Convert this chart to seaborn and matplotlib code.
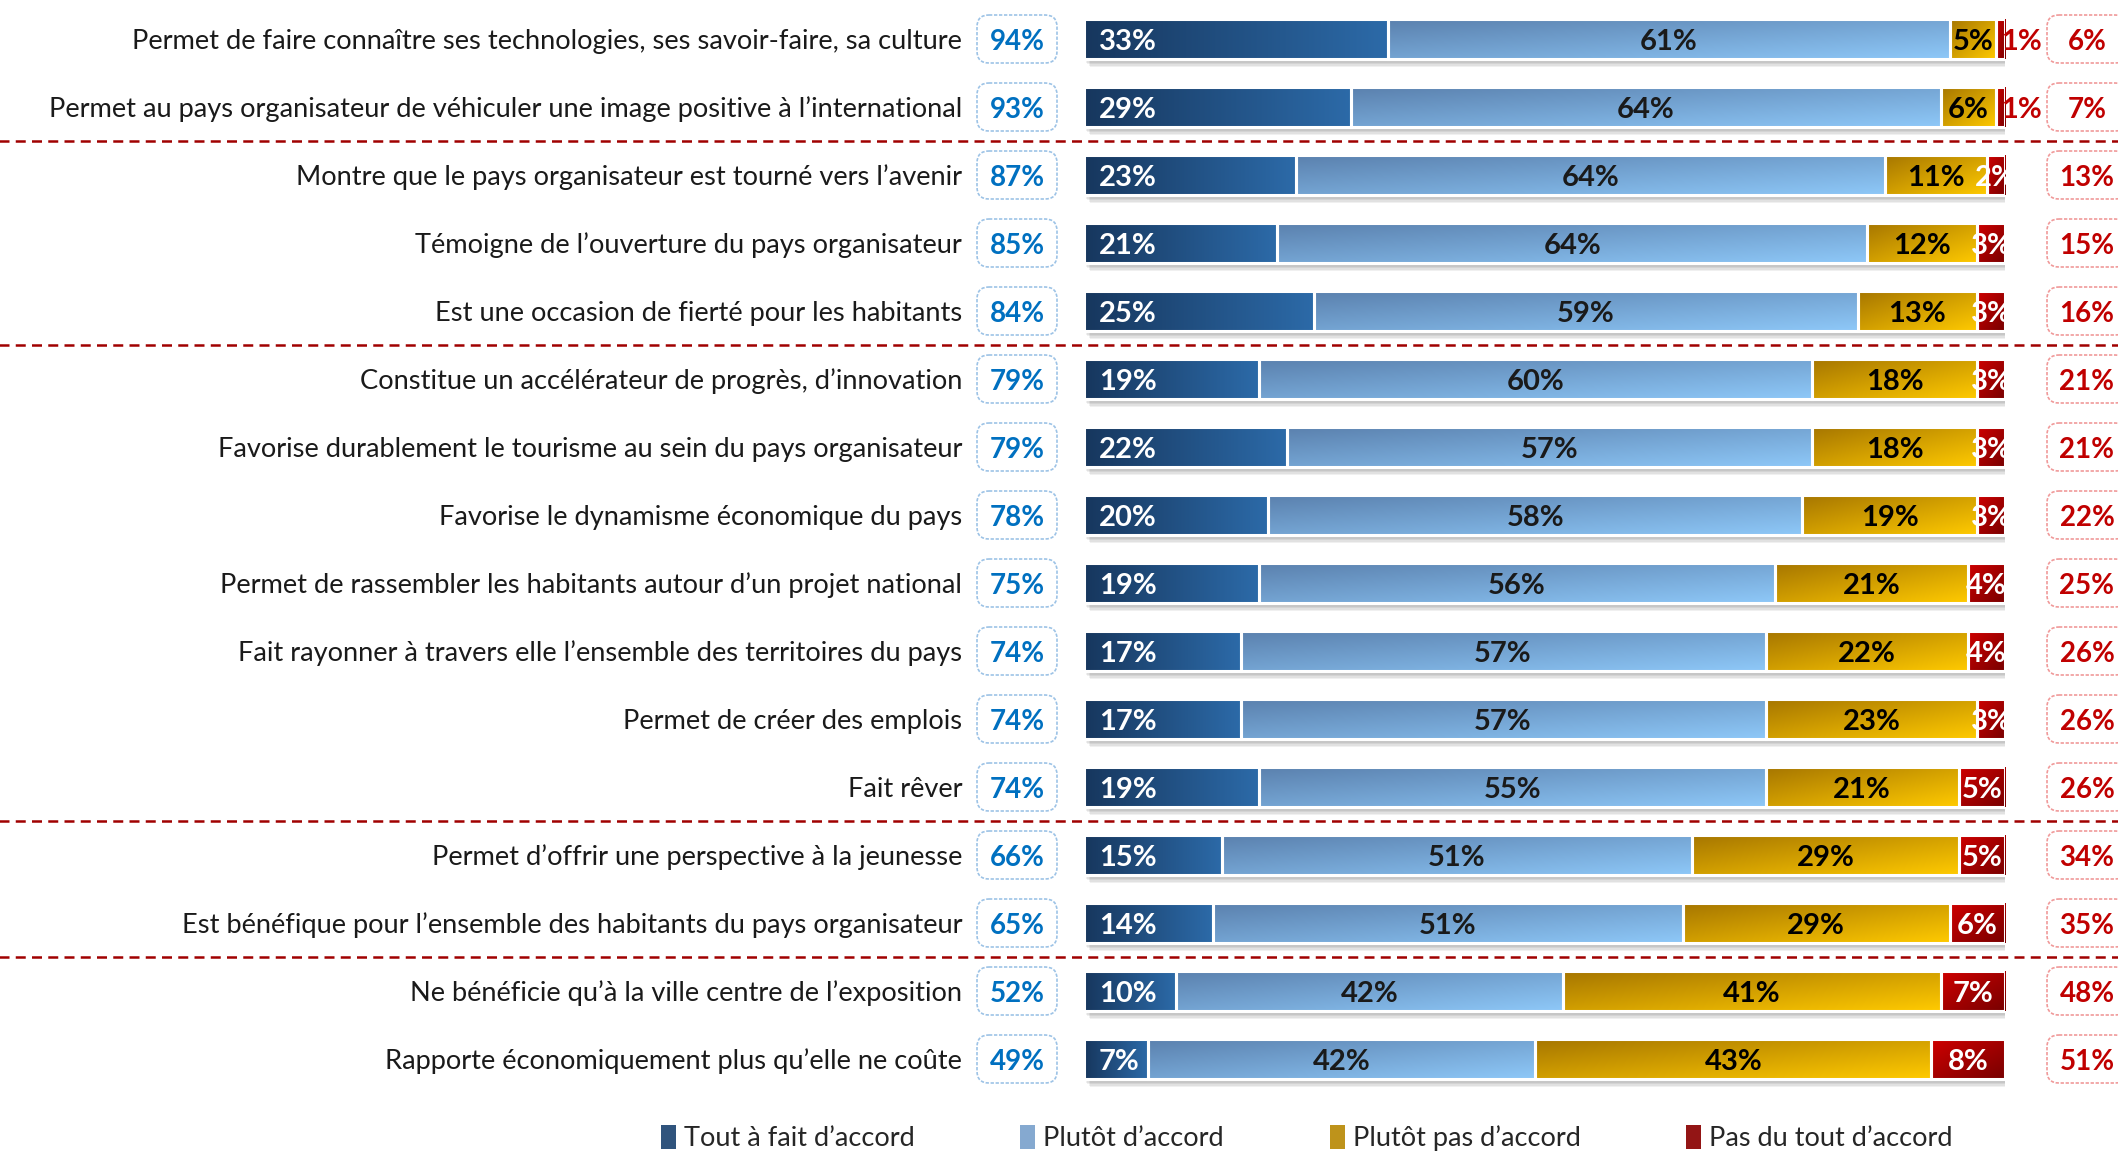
import numpy as np
import pandas as pd
import matplotlib
matplotlib.use("Agg")
import matplotlib.pyplot as plt
import seaborn as sns
from matplotlib.patches import FancyBboxPatch, Rectangle
from matplotlib.colors import to_rgb

labels = [
    "Permet de faire connaître ses technologies, ses savoir-faire, sa culture",
    "Permet au pays organisateur de véhiculer une image positive à l’international",
    "Montre que le pays organisateur est tourné vers l’avenir",
    "Témoigne de l’ouverture du pays organisateur",
    "Est une occasion de fierté pour les habitants",
    "Constitue un accélérateur de progrès, d’innovation",
    "Favorise durablement le tourisme au sein du pays organisateur",
    "Favorise le dynamisme économique du pays",
    "Permet de rassembler les habitants autour d’un projet national",
    "Fait rayonner à travers elle l’ensemble des territoires du pays",
    "Permet de créer des emplois",
    "Fait rêver",
    "Permet d’offrir une perspective à la jeunesse",
    "Est bénéfique pour l’ensemble des habitants du pays organisateur",
    "Ne bénéficie qu’à la ville centre de l’exposition",
    "Rapporte économiquement plus qu’elle ne coûte",
]
tout = [33, 29, 23, 21, 25, 19, 22, 20, 19, 17, 17, 19, 15, 14, 10, 7]
plutot = [61, 64, 64, 64, 59, 60, 57, 58, 56, 57, 57, 55, 51, 51, 42, 42]
plutot_pas = [5, 6, 11, 12, 13, 18, 18, 19, 21, 22, 23, 21, 29, 29, 41, 43]
pas_du_tout = [1, 1, 2, 3, 3, 3, 3, 3, 4, 4, 3, 5, 5, 6, 7, 8]
total_accord = [94, 93, 87, 85, 84, 79, 79, 78, 75, 74, 74, 74, 66, 65, 52, 49]
total_pas = [6, 7, 13, 15, 16, 21, 21, 22, 25, 26, 26, 26, 34, 35, 48, 51]
series = ["Tout à fait d’accord", "Plutôt d’accord", "Plutôt pas d’accord", "Pas du tout d’accord"]
separators = [1.5, 4.5, 11.5, 13.5]

df = pd.DataFrame({"label": labels, "tout": tout, "plutot": plutot,
                   "plutot_pas": plutot_pas, "pas_du_tout": pas_du_tout})
cols = ["tout", "plutot", "plutot_pas", "pas_du_tout"]
lefts = df[cols].cumsum(axis=1) - df[cols]

# gradient colours (start, end, direction)
grads = {
    "tout": ("#17375e", "#2c6aa8", "h"),
    "plutot": ("#5a80ad", "#8ec8f8", "d"),
    "plutot_pas": ("#a57500", "#ffca00", "d"),
    "pas_du_tout": ("#d00000", "#780000", "d"),
}
base = {"tout": "#23538a", "plutot": "#78a8dc", "plutot_pas": "#d9a000", "pas_du_tout": "#a80000"}


def gradient(c0, c1, kind, n=64):
    u = np.linspace(0, 1, n)
    if kind == "h":
        t = np.tile(u, (n, 1))
    else:
        t = (u[None, :] * 0.5 + u[:, None] * 0.5)
    c0, c1 = np.array(to_rgb(c0)), np.array(to_rgb(c1))
    return c0 + (c1 - c0) * t[..., None]


sns.set_style("white")
plt.rcParams["font.family"] = ["Lato", "DejaVu Sans"]

W, H = 2118, 1154
fig = plt.figure(figsize=(W / 100, H / 100), dpi=100)
ax = fig.add_axes([1084 / W, 1 - 1093 / H, 921 / W, 1088 / H])

for col, name in zip(cols, series):
    sns.barplot(data=df, x=col, y="label", order=labels, orient="h", ax=ax,
                color=base[col], width=0.6, left=lefts[col].values, label=name,
                edgecolor="white", linewidth=0, zorder=3)

ax.set_xlim(0, 100)
ax.set_ylim(len(labels) - 0.5, -0.5)

# gradients clipped to each bar + white separators
n = len(labels)
for k, col in enumerate(cols):
    c0, c1, kind = grads[col]
    img = gradient(c0, c1, kind)
    for p in ax.patches[k * n:(k + 1) * n]:
        x0, y0, w, h = p.get_x(), p.get_y(), p.get_width(), p.get_height()
        im = ax.imshow(img, extent=(x0, x0 + w, y0 + h, y0), origin="upper",
                       aspect="auto", interpolation="bilinear", zorder=3.5)
        im.set_clip_path(p)
        ax.add_patch(Rectangle((x0, y0), w, h, fill=False, ec="white", lw=2.2, zorder=4))

# soft shadow
totals = df[cols].sum(axis=1)
for i, t in enumerate(totals):
    for s in range(4):
        ax.add_patch(Rectangle((0.25 + 0.12 * s, i - 0.3 + 0.05 + 0.02 * s), t, 0.6,
                               color="#000000", alpha=0.06, lw=0, zorder=2))

ax.set_xlim(0, 100)
ax.set_ylim(len(labels) - 0.5, -0.5)

# segment labels
fs = 21
va = "center_baseline"
for i in range(n):
    ax.text(1.6, i, f"{tout[i]}%", ha="left", va=va, color="white",
            fontsize=fs, fontweight="bold", zorder=6)
    ax.text(lefts["plutot"][i] + plutot[i] / 2, i, f"{plutot[i]}%", ha="center", va=va,
            color="#1a1a1a", fontsize=fs, fontweight="bold", zorder=6)
    ax.text(lefts["plutot_pas"][i] + plutot_pas[i] / 2, i, f"{plutot_pas[i]}%", ha="center",
            va=va, color="black", fontsize=fs, fontweight="bold", zorder=6)
    if pas_du_tout[i] <= 1:
        ax.text(99.6, i, f"{pas_du_tout[i]}%", ha="left", va=va, color="#c00000",
                fontsize=fs, fontweight="bold", zorder=6, clip_on=False)
    else:
        ax.text(lefts["pas_du_tout"][i] + pas_du_tout[i] / 2, i, f"{pas_du_tout[i]}%",
                ha="center", va=va, color="white", fontsize=fs, fontweight="bold",
                zorder=6, clip_on=False)

# total boxes
px_x = 921 / 100
px_y = 68
asp = px_x / px_y
bw, bh = 80 / px_x, 48 / px_y
for i in range(n):
    lx = (1017 - 1084) / px_x
    ax.add_patch(FancyBboxPatch((lx - bw / 2, i - bh / 2), bw, bh,
                                boxstyle="round,pad=0,rounding_size=1.3", mutation_aspect=asp,
                                fc="white", ec="#9dc3e6", lw=1.2, ls=(0, (2, 1)),
                                clip_on=False, zorder=5))
    ax.text(lx, i, f"{total_accord[i]}%", ha="center", va=va, color="#0070c0",
            fontsize=20, fontweight="bold", clip_on=False, zorder=6)
    rx = (2087 - 1084) / px_x
    ax.add_patch(FancyBboxPatch((rx - bw / 2, i - bh / 2), bw, bh,
                                boxstyle="round,pad=0,rounding_size=1.3", mutation_aspect=asp,
                                fc="white", ec="#f09a9a", lw=1.2, ls=(0, (2, 1)),
                                clip_on=False, zorder=5))
    ax.text(rx, i, f"{total_pas[i]}%", ha="center", va=va, color="#c00000",
            fontsize=20, fontweight="bold", clip_on=False, zorder=6)

for y in separators:
    ax.axhline(y, xmin=-1.3, xmax=1.3, color="#a00000", lw=1.8, ls=(0, (4, 2.5)),
               clip_on=False, zorder=1)

ax.set_xlabel("")
ax.set_ylabel("")
ax.set_xticks([])
ax.set_yticks(range(n))
ax.set_yticklabels(labels, fontsize=19.6, color="#1a1a1a")
ax.tick_params(axis="y", length=0, pad=122 * 0.72)
sns.despine(ax=ax, left=True, bottom=True)

handles, hl = ax.get_legend_handles_labels()
fig.legend(handles[:4], hl[:4], loc="center", bbox_to_anchor=(0.617, 1 - 1138 / H), ncol=4,
           frameon=False, fontsize=19.5, handlelength=0.55, handleheight=1.0,
           handletextpad=0.3, columnspacing=3.9)
if ax.get_legend() is not None:
    ax.get_legend().remove()

fig.savefig("out.png", dpi=100)
